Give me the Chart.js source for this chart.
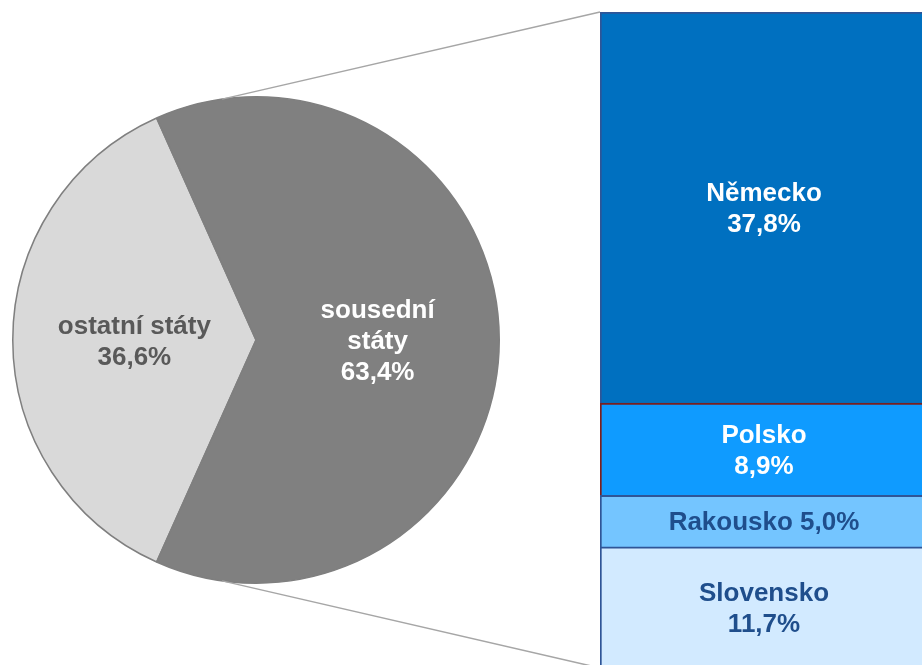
<!DOCTYPE html>
<html>
<head>
<meta charset="utf-8">
<script src="https://cdn.jsdelivr.net/npm/chart.js@4.4.1/dist/chart.umd.min.js"></script>
<style>
    html, body { margin: 0; padding: 0; background: #fff; overflow: hidden; width: 922px; height: 665px; }
    #PieChart { position: absolute; left: 0; top: 84px; }
    #BarChart { position: absolute; left: 0; top: 0; }
</style>
</head>
<body>
<canvas id="PieChart" width="512" height="512"></canvas>
<canvas id="BarChart" width="928" height="680"></canvas>
<script>
// Pie: share of all states (percent)
const pieCategories = ["ostatní státy", "sousední\nstáty"];
const pieValues = [36.6, 63.4];
// Bar: breakdown of the neighbouring states, bottom to top (percent)
const barCategories = ["Slovensko", "Rakousko", "Polsko", "Německo"];
const barValues = [11.7, 5.0, 8.9, 37.8];

const pieColors = ["#d9d9d9", "#808080"];
const pieTextColors = ["#595959", "#ffffff"];
const barColors = ["#d2eaff", "#74c5ff", "#0f9bff", "#0070c0"];
const barBorders = ["#2f5597", "#2f5597", "#7a1f1f", "#2f5597"];
const barTextColors = ["#1f4e8c", "#1f4e8c", "#ffffff", "#ffffff"];

const FONT = "bold 26px 'Liberation Sans', Arial, sans-serif";
const LINE_H = 31;
const CAP_H = 18.6;

// Czech style number: 37.8 -> "37,8%"
function pct(v) {
    return v.toFixed(1).replace(".", ",") + "%";
}

// Draw several lines of text centered vertically around cy.
function drawLines(ctx, lines, cx, cy, color) {
    ctx.save();
    ctx.font = FONT;
    ctx.fillStyle = color;
    ctx.textAlign = "center";
    ctx.textBaseline = "alphabetic";
    var first = cy - (lines.length - 1) * LINE_H / 2 + CAP_H / 2;
    for (var i = 0; i < lines.length; i++) {
        ctx.fillText(lines[i], cx, first + i * LINE_H);
    }
    ctx.restore();
}

// Labels inside the pie slices
const pieLabels = {
    id: "pieLabels",
    afterDatasetsDraw(chart) {
        var ctx = chart.ctx;
        chart.getDatasetMeta(0).data.forEach(function(arc, i) {
            var p = arc.tooltipPosition();
            var lines = pieCategories[i].split("\n").concat([pct(pieValues[i])]);
            drawLines(ctx, lines, p.x, p.y, pieTextColors[i]);
        });
    }
};

var pieTotal = pieValues.reduce((a, b) => a + b, 0);
// Center the "other" slice on the left side
var pieRotation = 270 - pieValues[0] / pieTotal * 180;

const pieChart = new Chart(document.getElementById("PieChart"), {
    type: "pie",
    data: {
        labels: pieCategories,
        datasets: [{
            data: pieValues,
            backgroundColor: pieColors,
            borderColor: "#7f7f7f",
            borderWidth: 1.5
        }]
    },
    options: {
        responsive: false,
        animation: false,
        devicePixelRatio: 1,
        rotation: pieRotation,
        layout: { padding: 12 },
        plugins: { legend: { display: false }, tooltip: { enabled: false } }
    },
    plugins: [pieLabels]
});

// Connector lines from the pie to the stacked bar, plus the bar labels
const PIE_TOP = 84;
const LINK_ANGLE = 98 * Math.PI / 180;
const barExtras = {
    id: "barExtras",
    afterDatasetsDraw(chart) {
        var ctx = chart.ctx;
        var area = chart.chartArea;
        // labels
        chart.data.datasets.forEach(function(ds, i) {
            var bar = chart.getDatasetMeta(i).data[0];
            var top = Math.min(bar.y, bar.base);
            var h = Math.abs(bar.base - bar.y);
            var cx = (area.left + area.right) / 2;
            var lines;
            // small segments get the value on the same line
            if (h < LINE_H * 2 + 10) {
                lines = [barCategories[i] + " " + pct(barValues[i])];
            } else {
                lines = [barCategories[i], pct(barValues[i])];
            }
            drawLines(ctx, lines, cx, top + h / 2, barTextColors[i]);
        });
        // connectors
        var arc = pieChart.getDatasetMeta(0).data[0];
        var px = arc.x + arc.outerRadius * Math.cos(LINK_ANGLE);
        var dy = arc.outerRadius * Math.sin(LINK_ANGLE);
        ctx.save();
        ctx.strokeStyle = "#a6a6a6";
        ctx.lineWidth = 1.5;
        ctx.beginPath();
        ctx.moveTo(px, PIE_TOP + arc.y - dy);
        ctx.lineTo(area.left, area.top);
        ctx.moveTo(px, PIE_TOP + arc.y + dy);
        ctx.lineTo(area.left, area.bottom);
        ctx.stroke();
        ctx.restore();
    }
};

const barChart = new Chart(document.getElementById("BarChart"), {
    type: "bar",
    data: {
        labels: [""],
        datasets: barCategories.map(function(name, i) {
            return {
                label: name,
                data: [barValues[i]],
                backgroundColor: barColors[i],
                borderColor: barBorders[i],
                // no bottom edge, so segment boundaries show a single line
                borderWidth: { top: 2, left: 2, right: 2, bottom: 0 },
                borderSkipped: false,
                barPercentage: 1,
                categoryPercentage: 1
            };
        })
    },
    options: {
        responsive: false,
        animation: false,
        devicePixelRatio: 1,
        layout: { padding: { left: 600, top: 12, bottom: 12, right: 0 } },
        scales: {
            x: { stacked: true, display: false },
            y: { stacked: true, display: false, min: 0, max: barValues.reduce((a, b) => a + b, 0) }
        },
        plugins: { legend: { display: false }, tooltip: { enabled: false } }
    },
    plugins: [barExtras]
});
</script>
</body>
</html>
